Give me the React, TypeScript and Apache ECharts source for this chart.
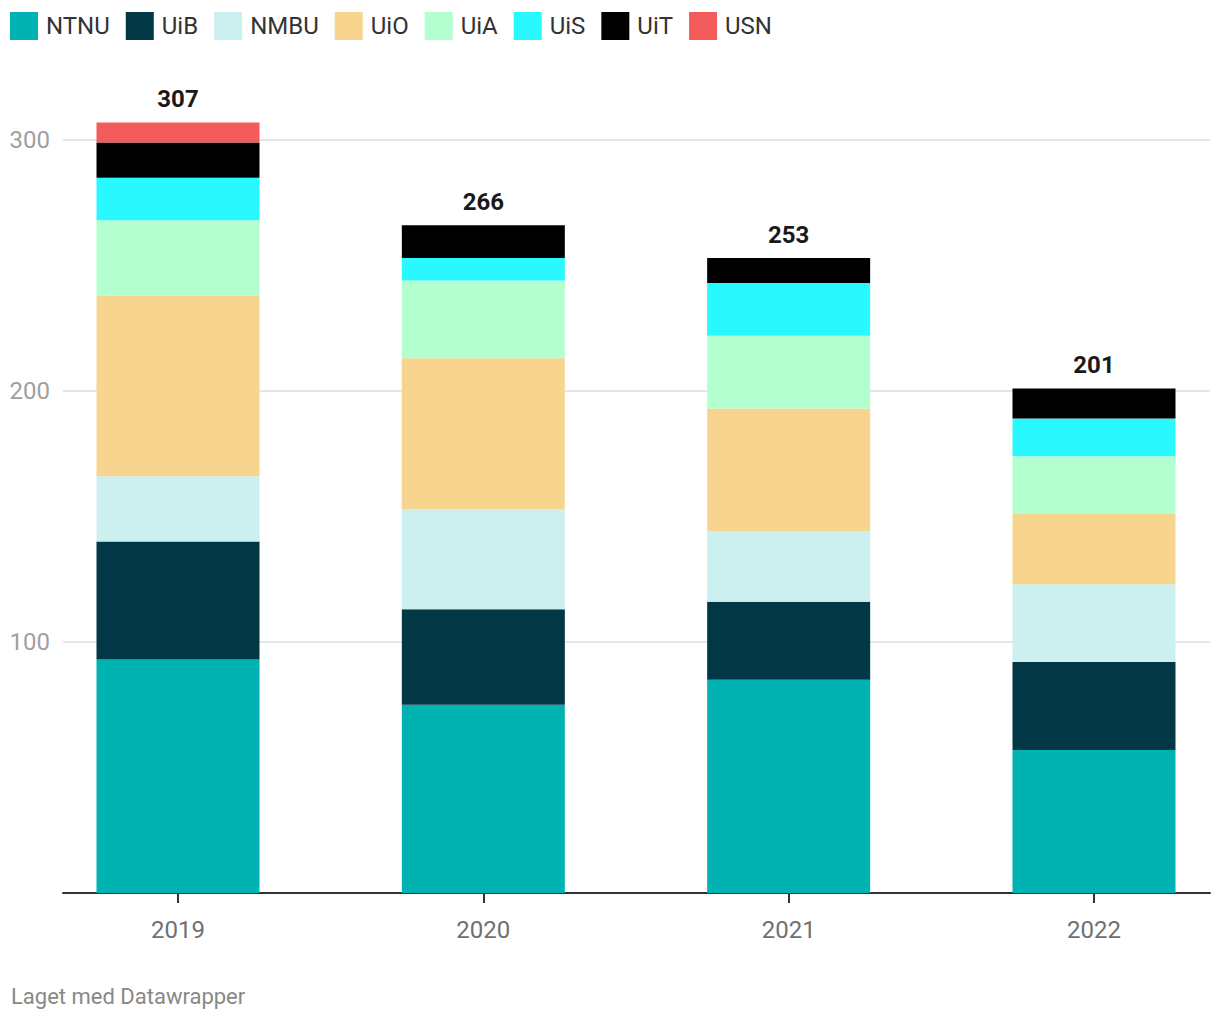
import React, { useEffect, useRef } from "react";
import * as echarts from "echarts";

const years = ["2019", "2020", "2021", "2022"];
const NTNU = [93, 75, 85, 57];
const UiB = [47, 38, 31, 35];
const NMBU = [26, 40, 28, 31];
const UiO = [72, 60, 49, 28];
const UiA = [30, 31, 29, 23];
const UiS = [17, 9, 21, 15];
const UiT = [14, 13, 10, 12];
const USN = [8, 0, 0, 0];

const seriesNames = ["NTNU", "UiB", "NMBU", "UiO", "UiA", "UiS", "UiT", "USN"];
const seriesValues = [NTNU, UiB, NMBU, UiO, UiA, UiS, UiT, USN];
const seriesColors = ["#00b2b1", "#023745", "#ccefef", "#f7d58f", "#b3ffcf", "#29f8ff", "#000000", "#f45b5b"];

const yMin = 0;
const yMax = 300;
const yInterval = 100;
const footer = "Laget med Datawrapper";

const FONT = "Roboto";
const CANVAS_W = 1280;

export default function App() {
  const ref = useRef<HTMLDivElement>(null);
  useEffect(() => {
    if (!ref.current) return;
    const chart = echarts.init(ref.current, undefined, { renderer: "svg" });
    const totals = years.map((_, i) => seriesValues.reduce((s, arr) => s + arr[i], 0));
    const barSeries = seriesNames.map((name, k) => ({
      name,
      type: "bar",
      stack: "total",
      xAxisIndex: 0,
      yAxisIndex: 0,
      barWidth: 163,
      clip: false,
      itemStyle: { color: seriesColors[k] },
      emphasis: { disabled: true },
      data: seriesValues[k],
    }));
    chart.setOption({
      animation: false,
      textStyle: { fontFamily: FONT },
      legend: {
        left: 10,
        top: 12,
        padding: 0,
        icon: "rect",
        itemWidth: 28,
        itemHeight: 28,
        itemGap: 16,
        data: seriesNames,
        selectedMode: false,
        textStyle: { fontSize: 24, color: "#333333", fontFamily: FONT, padding: [0, 0, 0, 3] },
      },
      grid: [
        { left: 25.33, width: 1221.33, top: 140, height: 753 },
        { left: 63, right: CANVAS_W - 1210, top: 140, height: 753 },
      ],
      xAxis: [
        {
          type: "category",
          gridIndex: 0,
          data: years,
          axisLine: { show: false },
          axisTick: { show: true, alignWithLabel: true, length: 10, lineStyle: { color: "#333333", width: 2 } },
          axisLabel: { fontSize: 24, color: "#707070", margin: 25, fontFamily: FONT },
          splitLine: { show: false },
        },
        {
          type: "value",
          gridIndex: 1,
          min: 0,
          max: 1,
          axisLine: { show: true, lineStyle: { color: "#333333", width: 2 } },
          axisTick: { show: false },
          axisLabel: { show: false },
          splitLine: { show: false },
        },
      ],
      yAxis: [
        { type: "value", gridIndex: 0, min: yMin, max: yMax, show: false, splitLine: { show: false } },
        {
          type: "value",
          gridIndex: 1,
          min: yMin,
          max: yMax,
          interval: yInterval,
          axisLine: { show: false },
          axisTick: { show: false },
          axisLabel: {
            fontSize: 24,
            color: "#a0a0a0",
            margin: 13,
            fontFamily: FONT,
            formatter: (v: number) => (v === 0 ? "" : String(v)),
          },
          splitLine: { show: true, lineStyle: { color: "#e6e6e6", width: 2 } },
        },
      ],
      series: [
        ...barSeries,
        {
          name: "total",
          type: "scatter",
          xAxisIndex: 0,
          yAxisIndex: 0,
          symbolSize: 0,
          clip: false,
          silent: true,
          itemStyle: { opacity: 1 },
          data: totals,
          label: {
            show: true,
            position: "top",
            distance: 11,
            fontSize: 24,
            fontWeight: "bold",
            color: "#1a1a1a",
            opacity: 1,
            fontFamily: FONT,
          },
          z: 10,
        },
      ],
      graphic: [
        {
          type: "text",
          left: 11,
          top: 985,
          style: { text: footer, fontSize: 22, fill: "#888888", fontFamily: FONT },
        },
      ],
    });
    return () => chart.dispose();
  }, []);
  return (
    <div style={{ position: "fixed", left: 0, top: 0, width: 1220, height: 1020, overflow: "hidden", background: "#ffffff" }}>
      <div ref={ref} style={{ width: CANVAS_W, height: 1020 }} />
    </div>
  );
}
